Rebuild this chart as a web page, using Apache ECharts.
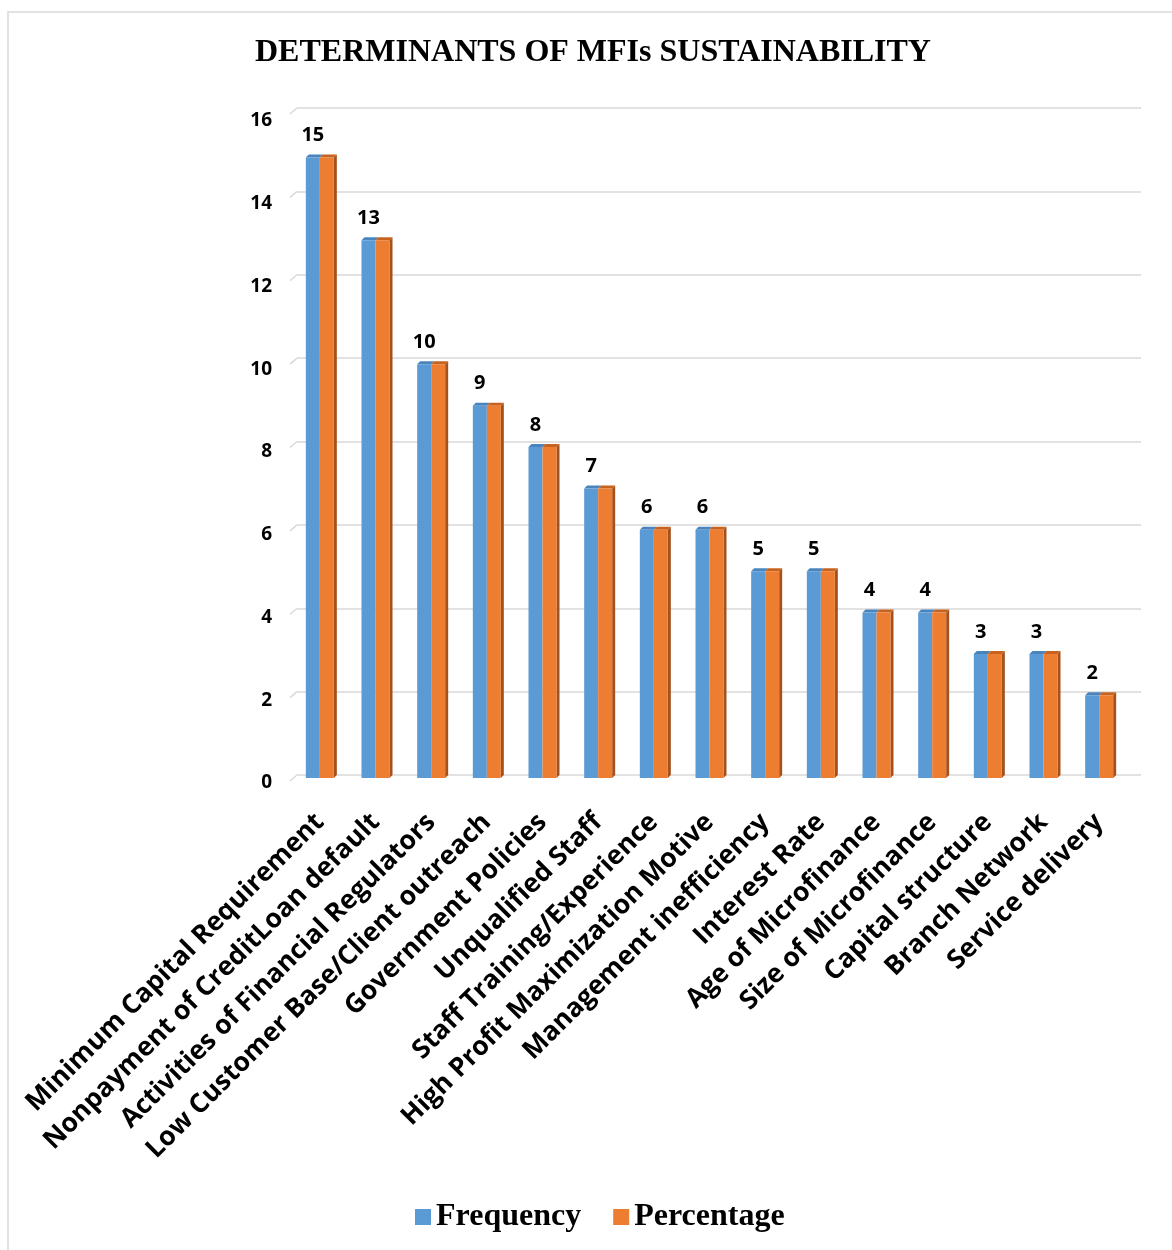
<!DOCTYPE html>
<html>
<head>
<meta charset="utf-8">
<script src="https://cdn.jsdelivr.net/npm/echarts@6/dist/echarts.min.js"></script>
<style>
	html, body { margin: 0; padding: 0; background: #fff; }
	#chart { width: 1172px; height: 1250px; }
</style>
</head>
<body>
<div id="chart"></div>
<script>
	var categories = [
		'Minimum Capital Requirement',
		'Nonpayment of CreditLoan default',
		'Activities of Financial Regulators',
		'Low Customer Base/Client outreach',
		'Government Policies',
		'Unqualified Staff',
		'Staff Training/Experience',
		'High Profit Maximization Motive',
		'Management inefficiency',
		'Interest Rate',
		'Age of Microfinance',
		'Size of Microfinance',
		'Capital structure',
		'Branch Network',
		'Service delivery'
	];
	var frequency = [15, 13, 10, 9, 8, 7, 6, 6, 5, 5, 4, 4, 3, 3, 2];
	var percentage = [15, 13, 10, 9, 8, 7, 6, 6, 5, 5, 4, 4, 3, 3, 2];
	var yTicks = { min: 0, max: 16, interval: 2 };
	var tickValues = [0, 2, 4, 6, 8, 10, 12, 14, 16];

	var BAR_W = 14;
	var DEPTH = 3;

	// side and top faces for the 3D look
	function renderDepth(params, api) {
		var i = api.value(0);
		var top = api.coord([i, api.value(1)]);
		var base = api.coord([i, 0]);
		var c = top[0], ty = top[1], by = base[1];
		var l = c - BAR_W, r = c + BAR_W;
		return {
			type: 'group',
			children: [{
				type: 'polygon',
				shape: { points: [[r, ty], [r + DEPTH, ty - DEPTH], [r + DEPTH, by - DEPTH], [r, by]] },
				style: { fill: '#a5511b' }
			}, {
				type: 'polygon',
				shape: { points: [[l, ty], [l + DEPTH, ty - DEPTH], [c + DEPTH, ty - DEPTH], [c, ty]] },
				style: { fill: '#4a84bd' }
			}, {
				type: 'polygon',
				shape: { points: [[c, ty], [c + DEPTH, ty - DEPTH], [r + DEPTH, ty - DEPTH], [r, ty]] },
				style: { fill: '#c8631f' }
			}]
		};
	}

	// short slanted edges at the left end of each gridline
	function renderStub(params, api) {
		var p = api.coord([0, api.value(0)]);
		var x0 = params.coordSys.x;
		return {
			type: 'line',
			shape: { x1: x0, y1: p[1], x2: x0 - 7, y2: p[1] + 6 },
			style: { stroke: '#d9d9d9', lineWidth: 1.5 }
		};
	}

	var chart = echarts.init(document.getElementById('chart'));
	var option = {
		animation: false,
		backgroundColor: '#fff',
		graphic: [{
			type: 'rect',
			shape: { x: 8, y: 12, width: 1170, height: 1245 },
			style: { fill: 'none', stroke: '#d9d9d9', lineWidth: 1.5 },
			silent: true
		}],
		title: {
			text: 'DETERMINANTS OF MFIs SUSTAINABILITY',
			left: 250,
			top: 32,
			textStyle: {
				fontFamily: 'Liberation Serif',
				fontWeight: 'bold',
				fontSize: 32,
				color: '#000'
			}
		},
		color: ['#5b9bd5', '#ed7d31'],
		legend: {
			data: ['Frequency', 'Percentage'],
			bottom: 12,
			left: 410,
			icon: 'rect',
			itemWidth: 16,
			itemHeight: 16,
			itemGap: 32,
			textStyle: {
				fontFamily: 'Liberation Serif',
				fontWeight: 'bold',
				fontSize: 32,
				color: '#000'
			}
		},
		grid: [{
			// front plane: bars and labels
			left: 292,
			width: 835,
			top: 116,
			bottom: 472
		}, {
			// back wall: gridlines
			left: 297,
			right: 31,
			top: 108,
			bottom: 475
		}],
		xAxis: [{
			type: 'category',
			gridIndex: 0,
			data: categories,
			axisLine: { show: false },
			axisTick: { show: false },
			axisLabel: {
				interval: 0,
				rotate: 45,
				margin: 40,
				fontFamily: 'Open Sans',
				fontWeight: 'bold',
				fontSize: 26.5,
				color: '#000'
			}
		}, {
			type: 'category',
			gridIndex: 1,
			data: categories,
			show: false
		}],
		yAxis: [{
			type: 'value',
			gridIndex: 0,
			min: yTicks.min,
			max: yTicks.max,
			interval: yTicks.interval,
			axisLine: { show: false },
			axisTick: { show: false },
			splitLine: { show: false },
			axisLabel: {
				margin: 20,
				verticalAlign: 'top',
				lineHeight: 10,
				fontFamily: 'Open Sans',
				fontWeight: 'bold',
				fontSize: 19,
				color: '#000'
			}
		}, {
			type: 'value',
			gridIndex: 1,
			min: yTicks.min,
			max: yTicks.max,
			interval: yTicks.interval,
			axisLine: { show: false },
			axisTick: { show: false },
			axisLabel: { show: false },
			splitLine: {
				lineStyle: { color: '#d9d9d9', width: 1.5 }
			}
		}],
		series: [{
			name: 'Frequency',
			type: 'bar',
			data: frequency,
			barWidth: BAR_W,
			barGap: '0%',
			z: 4,
			label: {
				show: true,
				position: 'top',
				distance: 12,
				fontFamily: 'Open Sans',
				fontWeight: 'bold',
				fontSize: 20,
				color: '#000'
			}
		}, {
			name: 'Percentage',
			type: 'bar',
			data: percentage,
			barWidth: BAR_W,
			barGap: '0%',
			z: 4
		}, {
			name: 'depth',
			type: 'custom',
			renderItem: renderDepth,
			data: percentage.map(function(v, i) { return [i, v]; }),
			encode: { x: 0, y: 1 },
			silent: true,
			z: 3
		}, {
			name: 'stubs',
			type: 'custom',
			xAxisIndex: 1,
			yAxisIndex: 1,
			renderItem: renderStub,
			data: tickValues.map(function(v) { return [v]; }),
			encode: { y: 0 },
			silent: true,
			z: 1
		}]
	};
	chart.setOption(option);
</script>
</body>
</html>
